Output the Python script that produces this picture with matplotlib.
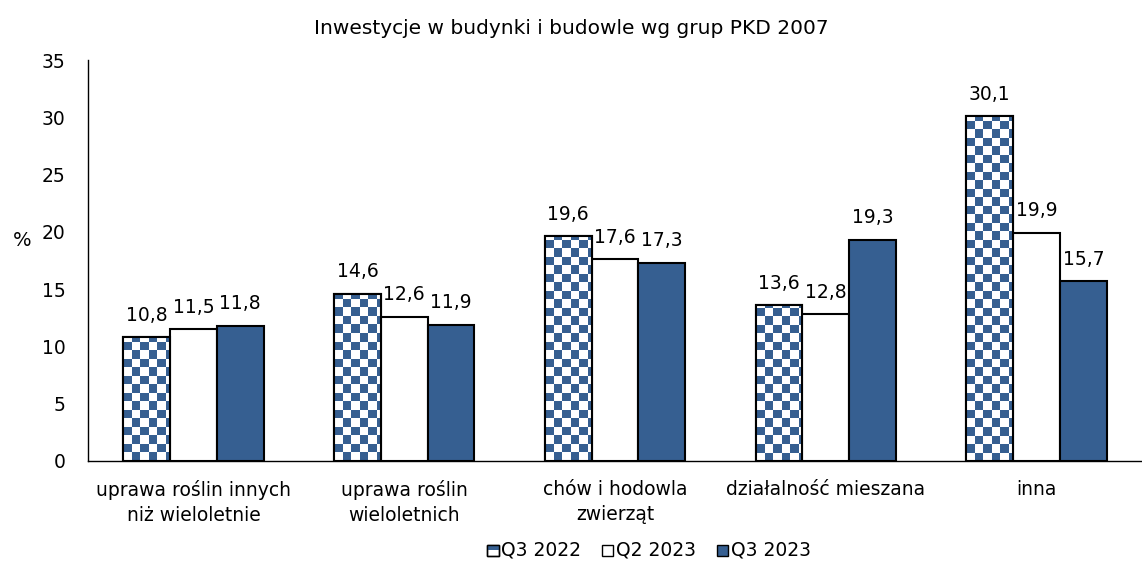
import numpy as np
import matplotlib
matplotlib.use("Agg")
import matplotlib.pyplot as plt
from matplotlib.patches import Rectangle
from matplotlib.legend_handler import HandlerBase

categories = ["uprawa roślin innych\nniż wieloletnie", "uprawa roślin\nwieloletnich",
              "chów i hodowla\nzwierząt", "działalność mieszana", "inna"]
series_names = ["Q3 2022", "Q2 2023", "Q3 2023"]
q3_2022 = [10.8, 14.6, 19.6, 13.6, 30.1]
q2_2023 = [11.5, 12.6, 17.6, 12.8, 19.9]
q3_2023 = [11.8, 11.9, 17.3, 19.3, 15.7]
yticks = [0, 5, 10, 15, 20, 25, 30, 35]

BLUE = "#365f91"
W, H, DPI = 1142, 564, 100
AX_BOX = [88 / W, 103 / H, 1054 / W, 401 / H]
CELL_PX = 8.5

plt.rcParams["font.family"] = ["DejaVu Sans"]
fig = plt.figure(figsize=(W / DPI, H / DPI), dpi=DPI)
ax = fig.add_axes(AX_BOX)

x = np.arange(len(categories))
bw = 0.222
ax.set_xlim(-0.5, len(categories) - 0.5)
ax.set_ylim(0, 35)

# pixel scale of data units, used to keep checker cells square
px_per_x = AX_BOX[2] * W / (len(categories))
px_per_y = AX_BOX[3] * H / 35


def checker_bar(xc, val):
    left = xc - bw / 2
    rect = Rectangle((left, 0), bw, val, facecolor="white", edgecolor="black", lw=1.5, zorder=2)
    ax.add_patch(rect)
    nx = int(np.ceil(bw * px_per_x / CELL_PX))
    ny = int(np.ceil(val * px_per_y / CELL_PX))
    grid = (np.add.outer(np.arange(ny), np.arange(nx)) % 2).astype(float)
    ext_w = nx * CELL_PX / px_per_x
    ext_h = ny * CELL_PX / px_per_y
    cmap = matplotlib.colors.ListedColormap(["white", BLUE])
    im = ax.imshow(grid, cmap=cmap, origin="lower", aspect="auto", interpolation="nearest",
                   extent=(left, left + ext_w, 0, ext_h), zorder=2.1)
    im.set_clip_path(rect)
    edge = Rectangle((left, 0), bw, val, facecolor="none", edgecolor="black", lw=1.5, zorder=2.2)
    ax.add_patch(edge)


for xc, v in zip(x - bw, q3_2022):
    checker_bar(xc, v)
ax.bar(x, q2_2023, bw, color="white", edgecolor="black", lw=1.5, zorder=2)
ax.bar(x + bw, q3_2023, bw, color=BLUE, edgecolor="black", lw=1.5, zorder=2)

for offs, vals in ((-bw, q3_2022), (0, q2_2023), (bw, q3_2023)):
    for xc, v in zip(x + offs, vals):
        ax.text(xc, v + 1.1, f"{v:.1f}".replace(".", ","), ha="center", va="bottom", fontsize=13.5)

ax.set_xticks(x)
ax.set_xticklabels(categories, fontsize=13.5, linespacing=1.35)
ax.set_yticks(yticks)
ax.set_yticklabels([str(t) for t in yticks], fontsize=13.5)
ax.tick_params(axis="x", length=0, pad=14)
ax.tick_params(axis="y", length=0, pad=16)
for s in ("top", "right"):
    ax.spines[s].set_visible(False)
for s in ("left", "bottom"):
    ax.spines[s].set_linewidth(1.0)
ax.set_xlim(-0.5, len(categories) - 0.5)
ax.set_ylim(0, 35)

ax.set_ylabel("%", fontsize=14, rotation=0, va="center", ha="center")
ax.yaxis.set_label_coords(-0.062, 0.551)

fig.text(0.5, 1 - 28 / H, "Inwestycje w budynki i budowle wg grup PKD 2007", ha="center", va="center", fontsize=14.5)


class CheckerHandler(HandlerBase):
    def create_artists(self, legend, orig_handle, xd, yd, width, height, fontsize, trans):
        s = min(width, height)
        x0 = xd + (width - s) / 2
        y0 = yd + (height - s) / 2
        h = s / 2
        arts = [Rectangle((x0, y0), s, s, facecolor="white", edgecolor="black", lw=1, transform=trans)]
        arts.append(Rectangle((x0, y0 + h), h, h, facecolor=BLUE, edgecolor="none", transform=trans))
        arts.append(Rectangle((x0 + h, y0 + h), h, h, facecolor=BLUE, edgecolor="none", transform=trans))
        arts.append(Rectangle((x0, y0), s, s, facecolor="none", edgecolor="black", lw=1, transform=trans))
        return arts


class SquareHandler(HandlerBase):
    def create_artists(self, legend, orig_handle, xd, yd, width, height, fontsize, trans):
        s = min(width, height)
        x0 = xd + (width - s) / 2
        y0 = yd + (height - s) / 2
        return [Rectangle((x0, y0), s, s, facecolor=orig_handle.get_facecolor(), edgecolor="black",
                          lw=1, transform=trans)]


h1 = Rectangle((0, 0), 1, 1, facecolor=BLUE)
h2 = Rectangle((0, 0), 1, 1, facecolor="white")
h3 = Rectangle((0, 0), 1, 1, facecolor=BLUE)
fig.legend([h1, h2, h3], series_names, loc="center", bbox_to_anchor=(649 / W, 1 - 550 / H), ncol=3,
           frameon=False, fontsize=13.5, handlelength=0.6, handleheight=0.6, handletextpad=0.15,
           columnspacing=1.1,
           handler_map={h1: CheckerHandler(), h2: SquareHandler(), h3: SquareHandler()})

fig.savefig("out.png", dpi=DPI)
